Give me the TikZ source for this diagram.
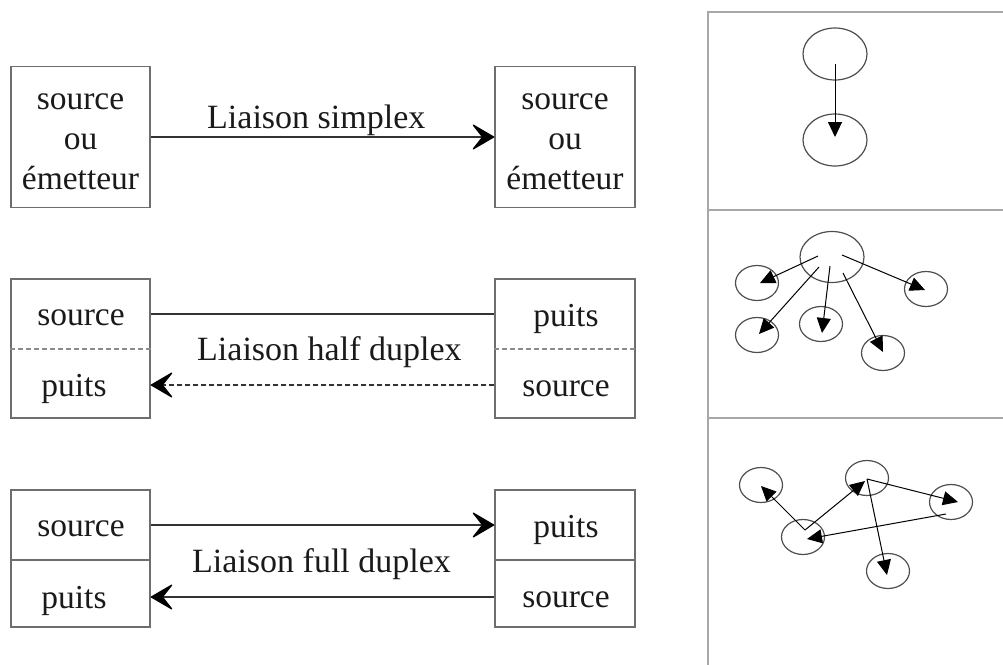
\documentclass[tikz,border=0pt]{standalone}
\usepackage{fontspec}
\setmainfont{Liberation Serif}
\usetikzlibrary{arrows.meta,shapes.geometric}
\definecolor{boxgray}{HTML}{6E6E6E}
\definecolor{panelgray}{HTML}{A8A8A8}
\definecolor{circgray}{HTML}{4E4E4E}
\definecolor{txt}{HTML}{1A1A1A}
\begin{document}
\begin{tikzpicture}[x=1pt,y=-1pt,
  boxframe/.style={draw=boxgray,line width=1.4pt},
  divider/.style={draw=boxgray,line width=1.4pt},
  dividerdash/.style={draw=boxgray!80,line width=1.6pt,dash pattern=on 5pt off 3pt},
  word/.style={inner sep=0pt,anchor=base,text=txt,font=\fontsize{33.5}{40}\selectfont},
  multi/.style={inner sep=0pt,align=center,text=txt,font=\fontsize{33.5}{40}\selectfont},
  label/.style={inner sep=0pt,anchor=base west,text=txt,font=\fontsize{34}{40}\selectfont},
  link/.style={draw=black!80,line width=1.4pt},
  barb/.style={-{Stealth[length=24pt,width=28pt,inset=11pt,line width=1.2pt,round,fill=black,color=black]}},
  panel/.style={draw=panelgray,line width=1.8pt},
  circ/.style={ellipse,draw=circgray,line width=1.2pt,inner sep=0pt},
  big/.style={circ,minimum width=64pt,minimum height=51pt},
  small/.style={circ,minimum width=43pt,minimum height=35pt},
  flow/.style={draw=black,line width=1pt,-{Triangle[length=15pt,width=14pt]}}
]
\useasboundingbox (0,0) rectangle (1003,664);

% ---------- simplex ----------
\node[boxframe,minimum width=139pt,minimum height=141pt,inner sep=0pt] (s1) at (80.5,137) {};
\node[boxframe,minimum width=140pt,minimum height=141pt,inner sep=0pt] (s2) at (565,137) {};
\node[multi] (s1t) at (80.5,142) {source\\ou\\émetteur};
\node[multi] (s2t) at (565,142) {source\\ou\\émetteur};
\draw[link,barb] (s1.east |- 0,137) -- (s2.west |- 0,137);
\node[label] (lsimplex) at (207,128) {Liaison simplex};

% ---------- half duplex ----------
\node[boxframe,minimum width=139pt,minimum height=139pt,inner sep=0pt] (h1) at (80.5,348.5) {};
\node[boxframe,minimum width=140pt,minimum height=139pt,inner sep=0pt] (h2) at (565,348.5) {};
\draw[dividerdash] (h1.west |- 0,349) -- (h1.east |- 0,349);
\draw[dividerdash] (h2.west |- 0,349) -- (h2.east |- 0,349);
\node[word] (h1a) at (81,325) {source};
\node[word] (h1b) at (74,396) {puits};
\node[word] (h2a) at (566,326) {puits};
\node[word] (h2b) at (566,396) {source};
\draw[link] (h1.east |- 0,314) -- (h2.west |- 0,314);
\draw[link,barb,dash pattern=on 5pt off 3pt,line width=1.1pt] (h2.west |- 0,385) -- (h1.east |- 0,385);
\node[label] (lhalf) at (197,360) {Liaison half duplex};

% ---------- full duplex ----------
\node[boxframe,minimum width=139pt,minimum height=137pt,inner sep=0pt] (f1) at (80.5,558.5) {};
\node[boxframe,minimum width=140pt,minimum height=137pt,inner sep=0pt] (f2) at (565,558.5) {};
\draw[divider] (f1.west |- 0,560) -- (f1.east |- 0,560);
\draw[divider] (f2.west |- 0,560) -- (f2.east |- 0,560);
\node[word] (f1a) at (81,536) {source};
\node[word] (f1b) at (74,608) {puits};
\node[word] (f2a) at (566,537) {puits};
\node[word] (f2b) at (566,607) {source};
\draw[link,barb] (f1.east |- 0,525) -- (f2.west |- 0,525);
\draw[link,barb] (f2.west |- 0,597) -- (f1.east |- 0,597);
\node[label] (lfull) at (192,572) {Liaison full duplex};

% ---------- right panel ----------
\draw[panel] (1005,12) -- (708,12) -- (708,666);
\draw[panel] (708,210) -- (1005,210);
\draw[panel] (708,418) -- (1005,418);

% top: simplex
\node[big,minimum height=52pt] (t1) at (835,54) {};
\node[big,minimum height=52pt] (t2) at (835,140) {};
\coordinate (t1o) at (835,64);
\coordinate (t2i) at (835,137);
\draw[flow] (t1o) -- (t2i);

% middle: broadcast
\node[big] (m0) at (832,257) {};
\node[small] (ma) at (757,283) {};
\node[small] (mb) at (757,335) {};
\node[small] (mc) at (821,324) {};
\node[small] (md) at (883,353) {};
\node[small] (me) at (926,289) {};
\coordinate (m0a) at (818,256);
\coordinate (m0b) at (819,267);
\coordinate (m0c) at (830,266);
\coordinate (m0d) at (843,273);
\coordinate (m0e) at (842,255);
\coordinate (mai) at (760,283);
\coordinate (mbi) at (759,334);
\coordinate (mci) at (822,333);
\coordinate (mdi) at (883,352);
\coordinate (mei) at (925,290);
\draw[flow] (m0a) -- (mai);
\draw[flow] (m0b) -- (mbi);
\draw[flow] (m0c) -- (mci);
\draw[flow] (m0d) -- (mdi);
\draw[flow] (m0e) -- (mei);

% bottom: mesh
\node[small] (p1) at (761,485) {};
\node[small] (p2) at (803,537) {};
\node[small] (p3) at (867,478) {};
\node[small] (p4) at (951,502) {};
\node[small] (p5) at (888,571) {};
\coordinate (p2o) at (805,530);
\coordinate (p1i) at (761,486);
\coordinate (p3i) at (865,481);
\coordinate (p3o) at (867,479);
\coordinate (p4i) at (958,502);
\coordinate (p4o) at (946,514);
\coordinate (p2i) at (807,539);
\coordinate (p5i) at (887,575);
\draw[flow] (p2o) -- (p1i);
\draw[flow] (p2o) -- (p3i);
\draw[flow] (p3o) -- (p4i);
\draw[flow] (p4o) -- (p2i);
\draw[flow] (p3o) -- (p5i);
\end{tikzpicture}
\end{document}
